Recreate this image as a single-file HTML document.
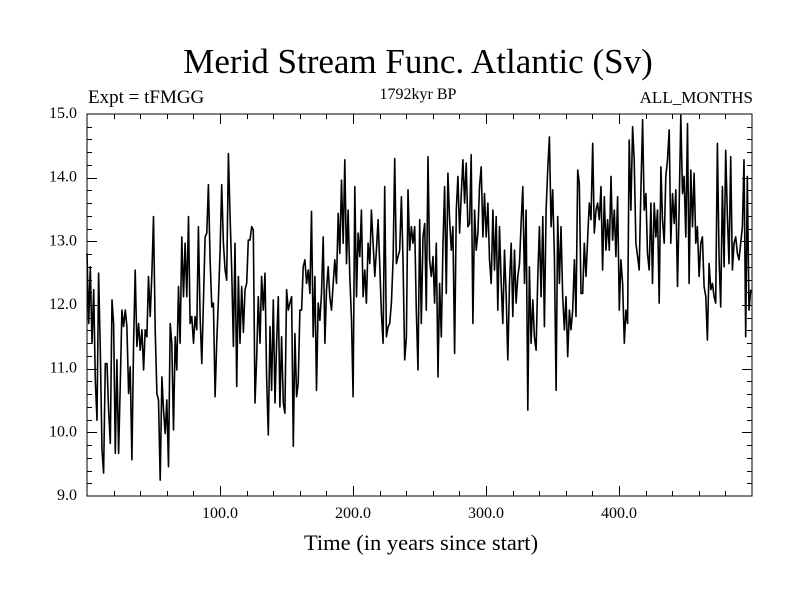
<!DOCTYPE html>
<html><head><meta charset="utf-8"><style>
html,body{margin:0;padding:0;background:#fff;}
svg{display:block;font-family:"Liberation Serif",serif;}
</style></head><body>
<svg id="chart" width="800" height="600" viewBox="0 0 800 600">
<text x="418" y="73" font-size="35" text-anchor="middle">Merid Stream Func. Atlantic (Sv)</text>
<text x="88" y="103" font-size="19">Expt = tFMGG</text>
<text x="418" y="99" font-size="16" text-anchor="middle">1792kyr BP</text>
<text x="753" y="103" font-size="17" text-anchor="end">ALL_MONTHS</text>
<g id="ticks"></g>
<polyline id="series" fill="none" stroke="#000" stroke-width="1.6" stroke-linejoin="round"></polyline>
<rect x="87" y="114" width="665" height="382" fill="none" stroke="#000" stroke-width="1"/>
<text x="421" y="550" font-size="22.5" text-anchor="middle">Time (in years since start)</text>
</svg>
<script>
const xTickValues=[100,200,300,400];
const xTickLabels=["100.0","200.0","300.0","400.0"];
const yTickValues=[9,10,11,12,13,14,15];
const yTickLabels=["9.0","10.0","11.0","12.0","13.0","14.0","15.0"];
const xStart=0, xEnd=499;
const values=[
12.81,11.71,12.60,11.40,12.24,10.82,10.19,12.50,11.29,9.72,9.36,11.08,11.08,10.35,9.83,12.08,11.71,9.67,11.14,9.67,10.77,11.92,11.66,11.92,11.66,10.61,11.03,9.57,11.40,12.55,11.35,11.71,11.29,11.61,10.98,11.61,11.50,12.45,11.82,12.50,13.39,11.61,10.61,10.51,9.25,10.87,10.35,9.98,10.51,9.46,11.71,11.40,10.04,11.50,10.98,12.29,11.40,13.07,12.13,12.97,12.13,13.39,11.71,11.82,11.40,11.82,11.61,13.23,11.82,11.08,12.03,13.07,13.13,13.89,12.71,11.97,12.03,10.56,11.40,12.08,12.86,13.89,12.97,12.55,12.39,14.38,13.44,12.55,11.35,12.97,10.72,12.45,11.40,12.29,11.57,12.24,12.34,13.02,13.02,
13.23,13.18,10.46,11.19,12.13,11.40,12.45,11.92,12.50,10.87,9.96,11.66,10.66,12.08,10.46,11.40,12.13,10.40,11.50,10.46,10.30,12.24,11.92,12.03,12.13,9.78,11.55,10.56,10.77,11.92,11.92,12.60,12.71,12.34,12.55,12.18,13.47,11.50,12.45,10.66,12.03,11.76,12.18,13.07,11.40,12.24,12.60,12.13,11.92,12.34,12.71,12.34,13.44,12.81,13.96,12.97,14.28,12.65,13.49,12.45,11.76,10.56,13.86,12.13,13.13,12.76,13.49,12.13,12.55,12.03,12.97,12.65,13.49,12.97,12.45,12.86,13.34,12.65,11.87,11.40,13.86,11.50,11.66,11.71,12.03,12.71,14.30,12.65,12.76,12.86,13.70,12.71,11.14,11.50,13.81,12.86,13.23,12.97,13.23,
11.92,10.98,13.34,11.71,13.07,13.28,11.92,14.33,12.71,12.45,12.76,12.03,12.97,10.87,12.34,11.50,12.97,13.86,12.18,14.07,13.34,12.86,13.23,11.24,13.49,14.02,13.13,13.75,14.28,13.60,14.23,13.23,13.28,14.36,11.71,13.49,12.86,13.13,13.86,14.17,13.07,13.75,13.07,13.60,12.71,12.34,13.49,12.55,13.39,11.92,13.23,12.34,11.71,12.86,12.13,11.14,12.34,12.97,11.82,12.86,12.03,12.45,12.65,13.28,13.86,12.34,13.49,10.35,12.60,11.40,12.08,11.50,11.29,12.45,13.23,12.13,13.39,11.66,13.49,14.12,14.64,13.23,13.81,12.76,10.66,13.39,12.34,13.23,12.13,11.61,12.13,11.19,11.92,11.61,11.92,12.71,11.82,14.12,13.91,12.18,
12.18,12.97,12.45,13.07,13.60,13.34,14.54,13.13,13.49,13.60,13.34,13.86,12.55,13.70,12.86,13.34,12.86,14.02,13.02,13.49,12.76,13.70,11.92,12.71,12.34,11.40,11.92,11.71,14.59,13.49,14.80,14.28,12.97,12.76,12.55,13.81,14.91,13.49,13.75,12.81,12.55,13.60,12.34,13.60,13.07,13.49,12.03,14.17,13.34,12.97,14.02,14.28,14.75,12.97,13.75,13.28,13.81,12.29,13.49,14.98,13.75,14.02,13.07,14.85,12.34,14.12,13.23,14.07,12.97,13.23,12.45,12.97,13.07,12.29,12.13,11.45,12.65,12.24,12.34,12.13,12.03,14.54,12.71,11.97,13.86,12.60,14.43,13.39,12.65,14.33,12.55,12.97,13.07,12.81,12.71,12.97,13.23,14.28,11.50,14.02,11.92,12.24
];
const X0=87,X1=752,Y0=496,Y1=114,XMIN=0,XMAX=500,YMIN=9,YMAX=15;
function sx(v){return X0+(v-XMIN)/(XMAX-XMIN)*(X1-X0);}
function sy(v){return Y0-(v-YMIN)/(YMAX-YMIN)*(Y0-Y1);}
const NS='http://www.w3.org/2000/svg';
const svg=document.getElementById('chart');
const tg=document.getElementById('ticks');
function line(x1,y1,x2,y2){const l=document.createElementNS(NS,'line');l.setAttribute('x1',x1);l.setAttribute('y1',y1);l.setAttribute('x2',x2);l.setAttribute('y2',y2);l.setAttribute('stroke','#000');l.setAttribute('stroke-width','1');


tg.appendChild(l);}
for(let v=20;v<XMAX;v+=20){const x=Math.round(sx(v))+0.5;const L=(v%100===0)?10:5;line(x,Y0,x,Y0-L);line(x,Y1,x,Y1+L);}
for(let k=1;k<30;k++){const v=YMIN+k*0.2;const y=Math.round(sy(v))+0.5;const L=(k%5===0)?10:5;line(X0,y,X0+L,y);line(X1,y,X1-L,y);}
xTickValues.forEach((v,i)=>{const t=document.createElementNS(NS,'text');t.setAttribute('x',sx(v));t.setAttribute('y',518);t.setAttribute('font-size','16');t.setAttribute('text-anchor','middle');t.textContent=xTickLabels[i];


svg.appendChild(t);});
yTickValues.forEach((v,i)=>{const t=document.createElementNS(NS,'text');t.setAttribute('x',77);t.setAttribute('y',sy(v)+4);t.setAttribute('font-size','16');t.setAttribute('text-anchor','end');t.textContent=yTickLabels[i];


svg.appendChild(t);});
const n=values.length;
const pts=values.map((v,i)=>{const yr=xStart+i*(xEnd-xStart)/(n-1);return sx(yr).toFixed(1)+','+sy(v).toFixed(1);});
document.getElementById('series').setAttribute('points',pts.join(' '));
</script>
</body></html>
